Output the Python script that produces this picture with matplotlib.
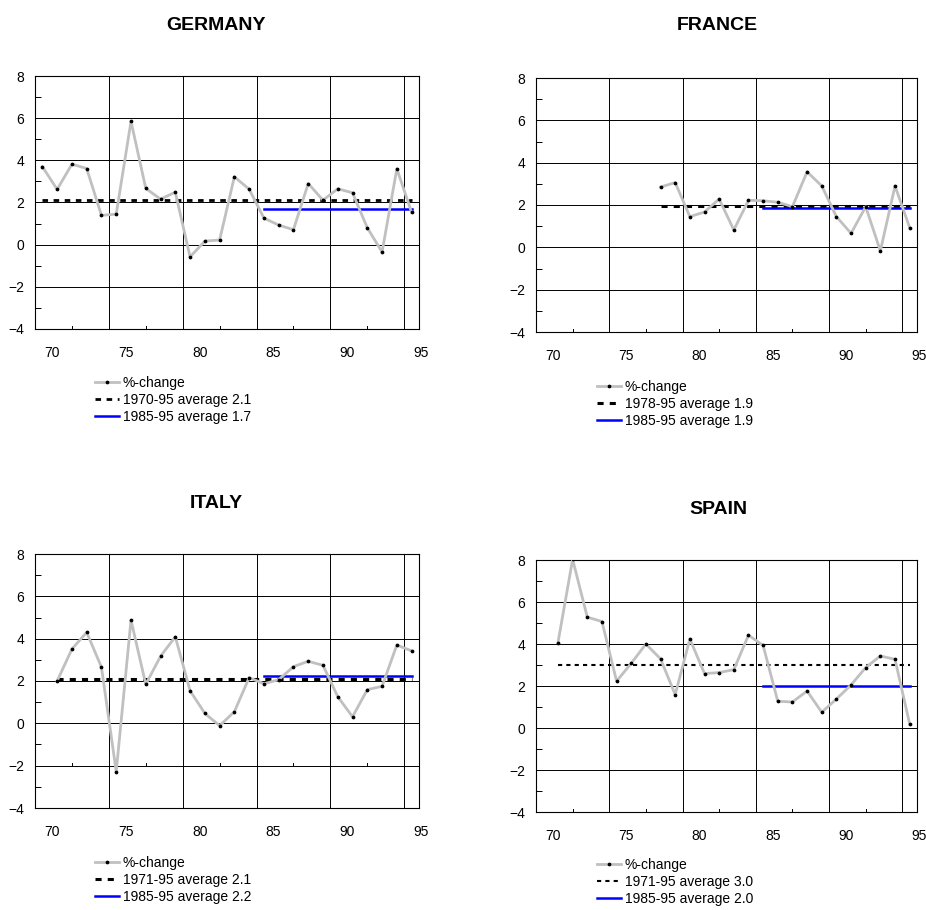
import numpy as np
import matplotlib
matplotlib.use('Agg')
import matplotlib.pyplot as plt

plt.rcParams['font.family'] = ['Liberation Sans', 'DejaVu Sans']

# yearly %-change, years given as two-digit numbers
de_years = list(range(70, 96))
de_vals = [3.7, 2.62, 3.82, 3.61, 1.39, 1.45, 5.85, 2.67, 2.16, 2.49, -0.58, 0.17, 0.22,
           3.22, 2.63, 1.26, 0.93, 0.71, 2.90, 2.11, 2.65, 2.46, 0.80, -0.35, 3.60, 1.53]
fr_years = list(range(78, 96))
fr_vals = [2.85, 3.06, 1.45, 1.67, 2.28, 0.82, 2.22, 2.20, 2.13, 1.92, 3.57, 2.90,
           1.45, 0.66, 1.92, -0.17, 2.90, 0.93]
it_years = list(range(71, 96))
it_vals = [2.0, 3.51, 4.30, 2.65, -2.28, 4.88, 1.84, 3.17, 4.09, 1.54, 0.47, -0.11, 0.55,
           2.16, 1.87, 2.06, 2.68, 2.93, 2.74, 1.26, 0.31, 1.59, 1.75, 3.70, 3.42]
es_years = list(range(71, 96))
es_vals = [4.07, 8.03, 5.28, 5.07, 2.23, 3.08, 4.0, 3.29, 1.59, 4.24, 2.59, 2.64, 2.78,
           4.42, 3.93, 1.27, 1.24, 1.76, 0.75, 1.38, 2.05, 2.88, 3.43, 3.27, 0.19]

# long and short period averages (value, first year, legend text)
de_avg = [(2.1, 70, '1970-95 average 2.1'), (1.7, 85, '1985-95 average 1.7')]
fr_avg = [(1.94, 78, '1978-95 average 1.9'), (1.85, 85, '1985-95 average 1.9')]
it_avg = [(2.09, 71, '1971-95 average 2.1'), (2.22, 85, '1985-95 average 2.2')]
es_avg = [(3.0, 71, '1971-95 average 3.0'), (2.0, 85, '1985-95 average 2.0')]

xlabels = ['70', '75', '80', '85', '90', '95']

W, H = 926, 910
fig = plt.figure(figsize=(W / 100, H / 100), dpi=100)


def px_axes(l, t, r, b):
    return fig.add_axes([l / W, 1 - b / H, (r - l) / W, (b - t) / H])


panels = [
    ('GERMANY', de_years, de_vals, de_avg, (35, 76, 419, 329), (216, 26), (95, 376), 2.0, -4),
    ('FRANCE', fr_years, fr_vals, fr_avg, (536, 78, 917, 332), (717, 26), (597, 380), 2.2, -4),
    ('ITALY', it_years, it_vals, it_avg, (35, 554, 419, 808), (216, 503), (95, 856), 2.2, -2),
    ('SPAIN', es_years, es_vals, es_avg, (536, 560, 917, 812), (718, 509), (597, 858), 1.5, -4),
]

for name, yrs, vals, avgs, box, tpos, lpos, dlw, tick_y in panels:
    ax = px_axes(*box)
    x = np.array(yrs) + 0.5
    ax.plot(x, vals, color='#c0c0c0', lw=2.0, marker='o', ms=1.7,
            mfc='black', mec='black', label='%-change', zorder=3)
    v, start, lab = avgs[0]
    ax.plot([start + 0.5, x[-1]], [v, v], color='black', lw=dlw,
            dashes=(2, 2), label=lab, zorder=2)
    v, start, lab = avgs[1]
    ax.plot([start + 0.5, x[-1]], [v, v], color='#0000ff', lw=1.8, label=lab, zorder=2)

    ax.set_xlim(70, 96)
    ax.set_ylim(-4, 8)
    ax.set_xticks([75, 80, 85, 90, 95])
    ax.set_xticklabels([])
    ax.set_yticks(range(-4, 9, 2))
    ax.set_yticks(range(-3, 8, 2), minor=True)
    ax.grid(True, which='major', color='black', lw=0.7)
    ax.tick_params(axis='x', which='major', length=0)
    ax.tick_params(axis='y', which='major', length=0, pad=8, labelsize=10)
    ax.tick_params(axis='y', which='minor', direction='in', length=4, width=0.7)
    ax.set_axisbelow(True)
    for s in ax.spines.values():
        s.set_linewidth(0.8)
        s.set_color('black')

    # small category ticks between gridlines
    for mx in [72.5, 77.5, 82.5, 87.5, 92.5]:
        ax.plot([mx, mx], [tick_y, tick_y + 0.12], color='black', lw=0.7, zorder=1)

    for i, lab in enumerate(xlabels):
        ax.annotate(lab, xy=(70 + 5 * i + 1.15, 0), xycoords=('data', 'axes fraction'),
                    xytext=(0, -17), textcoords='offset points',
                    ha='center', va='center', fontsize=10)

    fig.text(tpos[0] / W, 1 - tpos[1] / H, name, ha='center', va='center',
             fontsize=14, fontweight='bold')

    ax.legend(loc='upper left', bbox_to_anchor=(lpos[0] / W, 1 - lpos[1] / H),
              bbox_transform=fig.transFigure, frameon=False, fontsize=10,
              borderpad=0, borderaxespad=0, handlelength=1.7, handletextpad=0.3,
              labelspacing=0.2)

fig.savefig('out.png', dpi=100)
